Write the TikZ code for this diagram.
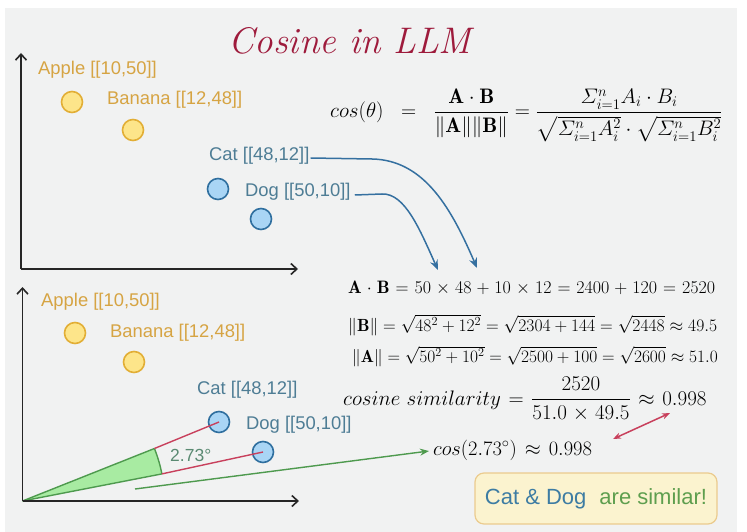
\RequirePackage{fix-cm}
\documentclass[tikz,border=0pt]{standalone}
\usepackage{amsmath,amssymb}
\usepackage{fontspec}
\newfontfamily\lsans{Liberation Sans}
\usetikzlibrary{arrows.meta}
\definecolor{bgcol}{HTML}{F1F2F2}
\definecolor{titlecol}{HTML}{9E1B3C}
\definecolor{fruittext}{HTML}{D6A443}
\definecolor{fruitline}{HTML}{E2AE35}
\definecolor{fruitfill}{HTML}{FDE58A}
\definecolor{animaltext}{HTML}{4E7D95}
\definecolor{animalline}{HTML}{2F6F9F}
\definecolor{animalfill}{HTML}{A9D5F5}
\definecolor{axiscol}{HTML}{262626}
\definecolor{arrowblue}{HTML}{3570A0}
\definecolor{vecred}{HTML}{C8405C}
\definecolor{wedgegreen}{HTML}{4E9A4E}
\definecolor{wedgefill}{HTML}{A8EBA2}
\definecolor{anglecol}{HTML}{5A8A72}
\definecolor{boxline}{HTML}{EBCB8E}
\definecolor{boxfill}{HTML}{FBF3CF}
\definecolor{catblue}{HTML}{3D7CA3}
\definecolor{simgreen}{HTML}{5E9E4E}
\begin{document}
\begin{tikzpicture}[x=1pt,y=-1pt,
  lbl/.style={font=\lsans\fontsize{18.4}{22}\selectfont, inner sep=0pt, anchor=west},
  fruitlbl/.style={lbl, text=fruittext},
  animallbl/.style={lbl, text=animaltext},
  fruit/.style={circle, draw=fruitline, fill=fruitfill, line width=1.6pt, minimum size=21pt, inner sep=0pt},
  animal/.style={circle, draw=animalline, fill=animalfill, line width=1.6pt, minimum size=21pt, inner sep=0pt},
  axis/.style={draw=axiscol, line width=1.6pt, -{Straight Barb[length=6pt,width=11pt,line width=1.6pt]}},
  eq/.style={font=\fontsize{17.6}{22}\selectfont, inner sep=0pt, anchor=base west},
  bluearrow/.style={draw=arrowblue, line width=1.5pt, -{Stealth[length=10pt,width=8pt]}},
  vec/.style={draw=vecred, line width=1.4pt}
]
\useasboundingbox (0,0) rectangle (747,532);
\fill[white] (0,0) rectangle (747,532);
\fill[bgcol] (5,8) rectangle (737,532);

% title
\node[font=\itshape\fontsize{37}{42}\selectfont, text=titlecol, inner sep=0pt] (title) at (350,41) {Cosine in LLM};

% ---------- top plot ----------
\coordinate (o1) at (21,269);
\coordinate (y1) at (21,53);
\coordinate (x1) at (298,269);
\draw[axis] (o1) -- (y1);
\draw[axis] (o1) -- (x1);

\node[fruitlbl] (apple1) at (38,70) {Apple [[10,50]]};
\node[fruit] (applec1) at (72,102) {};
\node[fruitlbl] (banana1) at (107,100) {Banana [[12,48]]};
\node[fruit] (bananac1) at (133,130) {};
\node[animallbl] (cat1) at (209,156) {Cat [[48,12]]};
\node[animal] (catc1) at (218,189) {};
\node[animallbl] (dog1) at (245,192) {Dog [[50,10]]};
\node[animal] (dogc1) at (261,219) {};

\coordinate (cattip) at (477,268);
\coordinate (dogtip) at (438,270);
\draw[bluearrow] ([xshift=1pt,yshift=-2pt]cat1.east) -- (372,159) .. controls (425,160) and (452,210) .. (cattip);
\draw[bluearrow] ([xshift=4pt,yshift=-3pt]dog1.east) -- (382,194) .. controls (405,193) and (420,230) .. (dogtip);

% ---------- formulas ----------
\node[eq, font=\fontsize{21}{25}\selectfont] (cosdef) at (330,118) {$\displaystyle cos(\theta)\;\;=\;\;\frac{\mathbf{A}\cdot\mathbf{B}}{\|\mathbf{A}\|\|\mathbf{B}\|}=\frac{\varSigma_{i=1}^{n}A_i\cdot B_i}{\sqrt{\varSigma_{i=1}^{n}A_i^2}\cdot\sqrt{\varSigma_{i=1}^{n}B_i^2}}$};

\node[eq, font=\fontsize{18}{22}\selectfont] (dot) at (348,293) {$\medmuskip=5mu\thickmuskip=6mu\mathbf{A}\cdot\mathbf{B}=50\times48+10\times12=2400+120=2520$};
\node[eq] (normb) at (348,331) {$\|\mathbf{B}\|=\sqrt{48^2+12^2}=\sqrt{2304+144}=\sqrt{2448}\approx49.5$};
\node[eq, font=\fontsize{17.4}{22}\selectfont] (norma) at (352,362) {$\|\mathbf{A}\|=\sqrt{50^2+10^2}=\sqrt{2500+100}=\sqrt{2600}\approx51.0$};
\node[eq, font=\fontsize{21}{25}\selectfont] (cossim) at (343,405) {$\displaystyle \medmuskip=5mu\thickmuskip=6.5mu cosine\ similarity=\frac{2520}{51.0\times49.5}\approx0.998$};
\node[eq, font=\fontsize{20.5}{24}\selectfont] (cosang) at (433,455) {$\thickmuskip=7mu cos(2.73^\circ)\approx0.998$};

% red double arrow
\coordinate (ra) at (613,439);
\coordinate (rb) at (670,413);
\draw[draw=vecred, line width=1.5pt, {Stealth[length=8pt,width=6pt]}-{Stealth[length=8pt,width=6pt]}] (ra) -- (rb);

% ---------- bottom plot ----------
\coordinate (o2) at (22.5,501);
\coordinate (y2) at (22.5,287);
\coordinate (x2) at (299,501);

\node[fruitlbl] (apple2) at (41,302) {Apple [[10,50]]};
\node[fruit] (applec2) at (75,333) {};
\node[fruitlbl] (banana2) at (110,333) {Banana [[12,48]]};
\node[fruit] (bananac2) at (134,362) {};
\node[animallbl] (cat2) at (197,390) {Cat [[48,12]]};
\node[animallbl] (dog2) at (246,425) {Dog [[50,10]]};

% wedge
\fill[wedgefill] (o2) -- ++(-21.7:142) arc[start angle=-21.7, end angle=-11, radius=142] -- cycle;
\draw[draw=wedgegreen, line width=1.4pt] (o2) -- ++(-21.7:142) coordinate (wup);
\draw[draw=wedgegreen, line width=1.4pt] (o2) -- ++(-11:142) coordinate (wlo);
\draw[draw=wedgegreen, line width=1.4pt] (wup) arc[start angle=-21.7, end angle=-11, radius=142];

\node[animal] (catc2) at (219,422) {};
\node[animal] (dogc2) at (263,452) {};
\draw[vec] (wup) -- (catc2.center);
\draw[vec] (wlo) -- (dogc2.center);

\node[font=\lsans\fontsize{17.5}{21}\selectfont, text=anglecol, inner sep=0pt, anchor=west] (ang) at (170,455) {2.73\textdegree};

\draw[axis] (o2) -- (y2);
\draw[axis] (o2) -- (x2);

% green arrow
\coordinate (gs) at (135,489);
\coordinate (gt) at (429,451);
\draw[draw=wedgegreen, line width=1.4pt, -{Stealth[length=9pt,width=7pt]}] (gs) -- (gt);

% conclusion box
\node[draw=boxline, fill=boxfill, rounded corners=9pt, line width=1.2pt, minimum width=242pt, minimum height=51pt, inner sep=0pt, font=\lsans\fontsize{22}{26}\selectfont] (box) at (596,498.5) {\textcolor{catblue}{Cat \& Dog}\hspace{13pt}\textcolor{simgreen}{are similar!}};
\end{tikzpicture}
\end{document}
